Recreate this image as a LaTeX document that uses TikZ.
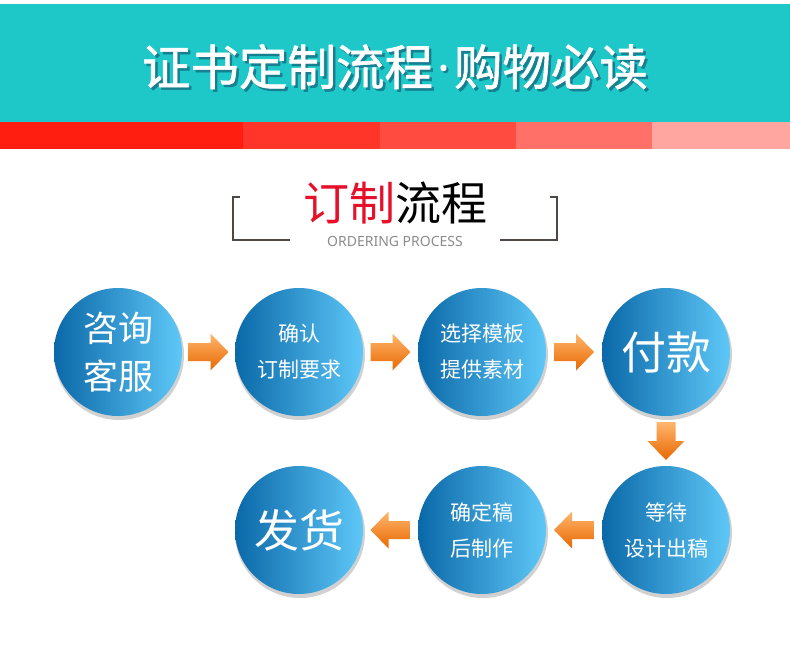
\documentclass[tikz,border=0pt]{standalone}
\usepackage{fontspec}
\setmainfont{Noto Sans CJK SC}
\newfontfamily\latin{Noto Sans}
\newfontfamily\titlefont[FakeBold=1.2]{Noto Sans CJK SC}
\usetikzlibrary{calc}
\definecolor{teal1}{RGB}{31,200,200}
\definecolor{tshadow}{RGB}{20,110,130}
\definecolor{rA}{RGB}{255,30,16}
\definecolor{rB}{RGB}{255,53,41}
\definecolor{rC}{RGB}{255,75,64}
\definecolor{rD}{RGB}{255,113,104}
\definecolor{rE}{RGB}{255,166,160}
\definecolor{redtxt}{RGB}{230,16,42}
\definecolor{brk}{RGB}{77,72,67}
\definecolor{graytxt}{RGB}{140,140,140}
\definecolor{bdark}{RGB}{10,104,168}
\definecolor{bmid}{RGB}{22,150,214}
\definecolor{blight}{RGB}{95,200,248}
\definecolor{olight}{RGB}{255,182,110}
\definecolor{odark}{RGB}{232,104,0}
\newcommand\titletext{证书定制流程\hspace{4pt}{\latin\bfseries ·}\hspace{4pt}购物必读}
\begin{document}
\begin{tikzpicture}[x=1pt,y=-1pt,
  ball/.style={circle,minimum size=128pt,inner sep=0pt,left color=bdark,middle color=bmid,right color=blight,text=white,align=center},
  ballshadow/.style={fill=black,opacity=0.18},
  small/.style={font=\fontsize{21}{36}\selectfont},
  big/.style={font=\fontsize{35}{48}\selectfont},
  huge/.style={font=\fontsize{45}{50}\selectfont},
  orfill/.style={top color=olight,bottom color=odark,draw=none}
]
\useasboundingbox (0,0) rectangle (790,665);
\fill[white] (0,0) rectangle (790,665);
% header
\fill[teal1] (0,4) rectangle (790,122);
\fill[rA] (0,122) rectangle (243,149);
\fill[rB] (243,122) rectangle (380,149);
\fill[rC] (380,122) rectangle (516,149);
\fill[rD] (516,122) rectangle (652,149);
\fill[rE] (652,122) rectangle (790,149);
\node[text=white,font=\titlefont\fontsize{48.5}{50}\selectfont] (title) at (395,68)
  {\makebox[0pt][l]{\hspace{2.5pt}\raisebox{-2.5pt}{\textcolor{tshadow!80!teal1}{\titletext}}}\titletext};
% subtitle
\node[font=\fontsize{46}{50}\selectfont] (sub) at (395,203) {\textcolor{redtxt}{订制}流程};
\node[text=graytxt,font=\latin\fontsize{14}{16}\selectfont] (eng) at (395,241) {ORDERING PROCESS};
\draw[brk,line width=2.5pt] (240,197) -- (233,197) -- (233,240) -- (290,240);
\draw[brk,line width=2.5pt] (550,197) -- (557,197) -- (557,240) -- (500,240);
% shadows
\foreach \p in {(118,352),(299,352),(482,352),(666,352),(299,530),(482,530),(666,530)}{
  \fill[ballshadow] \p ++(1,3) circle (65);
}
% balls
\node[ball,big] (c1) at (118,352) {咨询\\客服};
\node[ball,small] (c2) at (299,352) {确认\\订制要求};
\node[ball,small] (c3) at (482,352) {选择模板\\提供素材};
\node[ball,huge] (c4) at (666,352) {付款};
\node[ball,small] (c5) at (666,530) {等待\\设计出稿};
\node[ball,small] (c6) at (482,530) {确定稿\\后制作};
\node[ball,huge] (c7) at (299,530) {发货};
% arrows
\coordinate (a12) at ($(c1.east)!0.5!(c2.west)$);
\coordinate (a23) at ($(c2.east)!0.5!(c3.west)$);
\coordinate (a34) at ($(c3.east)!0.5!(c4.west)$);
\coordinate (a45) at ($(c4.south)!0.5!(c5.north)$);
\coordinate (a56) at ($(c5.west)!0.5!(c6.east)$);
\coordinate (a67) at ($(c6.west)!0.5!(c7.east)$);
\foreach \a in {a12,a23,a34}{
  \path[orfill] (\a) ++(-20,-9) -- ++(22,0) -- ++(0,-9.5) -- ++(18,18.5) -- ++(-18,18.5) -- ++(0,-9.5) -- ++(-22,0) -- cycle;
}
\foreach \a in {a56,a67}{
  \path[orfill] (\a) ++(20,-9) -- ++(-22,0) -- ++(0,-9.5) -- ++(-18,18.5) -- ++(18,18.5) -- ++(0,-9.5) -- ++(22,0) -- cycle;
}
\path[orfill] (a45) ++(-9.5,-19) -- ++(19,0) -- ++(0,19) -- ++(9,0) -- ++(-18.5,19) -- ++(-18.5,-19) -- ++(9,0) -- cycle;
\end{tikzpicture}
\end{document}
